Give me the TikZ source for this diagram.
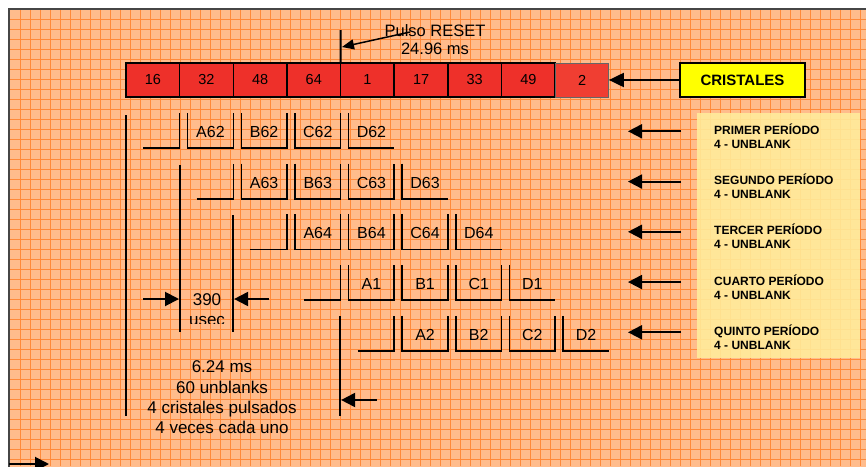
\documentclass[tikz,border=0pt]{standalone}
\usepackage{fontspec}
\setmainfont{Liberation Sans}
\usetikzlibrary{arrows.meta,positioning}

\definecolor{fondo}{RGB}{255,188,140}
\definecolor{rejilla}{RGB}{255,138,58}
\definecolor{rojo}{RGB}{238,48,42}
\definecolor{rojoclaro}{RGB}{240,62,50}
\definecolor{amarillo}{RGB}{255,255,0}
\definecolor{panel}{RGB}{255,236,155}
\definecolor{marco}{RGB}{70,70,70}

\begin{document}
\begin{tikzpicture}[x=1pt,y=-1pt,
    celda/.style={draw,line width=1.6pt,fill=rojo,outer sep=0pt,inner sep=0pt,
      minimum width=53.65pt,minimum height=34pt,font=\fontsize{14.5}{16}\selectfont},
    pulso/.style={line width=1.6pt},
    linea/.style={line width=2.2pt},
    flecha/.style={line width=2pt,-{Triangle[length=14pt,width=14pt]}},
    texto/.style={inner sep=0pt,font=\fontsize{16.5}{20}\selectfont},
    periodo/.style={inner sep=0pt,anchor=base west,font=\bfseries\fontsize{12}{14}\selectfont}]
\useasboundingbox (0,0) rectangle (866,466);
\clip (0,0) rectangle (866,466);
\fill[fondo] (9,9) rectangle (880,480);
\foreach \gx in {20,30,...,860}
  \draw[rejilla,line width=0.6pt] (\gx,10) -- (\gx,466);
\foreach \gy in {19,29,...,459}
  \draw[rejilla,line width=0.6pt] (10,\gy) -- (866,\gy);
\draw[marco,line width=2pt] (9,470) -- (9,9) -- (870,9);

\node[fill=panel,fill opacity=0.88,anchor=north west,minimum width=163pt,minimum height=245pt] (panel) at (697,113) {};

\node[celda,anchor=north west] (c16) at (126,63) {16};
\foreach \n/\p in {32/16,48/32,64/48,1/64,17/1,33/17,49/33}
  \node[celda,right=0pt of c\p] (c\n) {\n};
\node[celda,right=0pt of c49,fill=rojoclaro,draw=black!60,line width=0.8pt] (c2) {2};

\node[draw,line width=1.6pt,fill=amarillo,minimum width=125pt,minimum height=34pt,inner sep=0pt,
  font=\bfseries\fontsize{15}{18}\selectfont] (cristales) at (742.5,80) {CRISTALES};
\draw[flecha,-{Triangle[length=15pt,width=14pt]}] (cristales) -- (c2);

\coordinate (reset) at (340.6,30);
\draw[linea] (reset) -- (c1.north west);
\node[texto] (pulsoreset) at (435,30.7) {Pulso RESET};
\node[texto] (tiempo) at (435,49) {24.96 ms};
\coordinate (colareset) at (410,32);
\coordinate (puntareset) at (342,47);
\draw[line width=1.5pt,-{Triangle[length=12pt,width=10pt]}] (colareset) -- (puntareset);

\foreach \n [count=\r from 0] in {62,63,64,1,2} {
  \pgfmathsetmacro\ya{113+50.7*\r}
  \pgfmathsetmacro\yb{\ya+35}
  \pgfmathsetmacro\xa{126+53.65*\r}
  \draw[pulso] (\xa+17,\yb) -- (\xa+53.65,\yb) -- (\xa+53.65,\ya);
  \foreach \l [count=\k] in {A,B,C,D} {
    \pgfmathsetmacro\xl{\xa+53.65*\k+8}
    \pgfmathsetmacro\xr{\xa+53.65*(\k+1)}
    \ifnum\k<4
      \draw[pulso] (\xl,\ya) -- (\xl,\yb) -- (\xr,\yb) -- (\xr,\ya);
    \else
      \draw[pulso] (\xl,\ya) -- (\xl,\yb) -- (\xr,\yb);
    \fi
    \node[texto,font=\fontsize{16}{18}\selectfont] (\l\n) at ({(\xl+\xr)/2},\ya+19) {\l\n};
  }
}

\draw[linea] (126,115) -- (126,416);
\draw[linea] (180,165) -- (180,332);
\draw[linea] (233,215) -- (233,332);
\draw[linea] (340,316) -- (340,416);

\node[texto,font=\fontsize{17}{20}\selectfont] (t390) at (207,300) {390};
\begin{scope}
  \clip (150,280) rectangle (262,323);
  \node[texto,font=\fontsize{17}{20}\selectfont] (usec) at (207,321.5) {usec};
\end{scope}
\coordinate (izq) at (143,299);
\coordinate (izqpunta) at (179,299);
\coordinate (der) at (269,299);
\coordinate (derpunta) at (234.1,299);
\draw[flecha] (izq) -- (izqpunta);
\draw[flecha] (der) -- (derpunta);

\node[texto,font=\fontsize{17}{20.3}\selectfont,align=center] (resumen) at (222,397.5)
  {6.24 ms\\60 unblanks\\4 cristales pulsados\\4 veces cada uno};

\coordinate (cola5) at (377,400);
\coordinate (punta5) at (341.1,400);
\draw[flecha] (cola5) -- (punta5);

\coordinate (colabajo) at (9,464);
\coordinate (puntabajo) at (49,464);
\draw[flecha] (colabajo) -- (puntabajo);

\foreach \nm [count=\i from 0] in {PRIMER,SEGUNDO,TERCER,CUARTO,QUINTO} {
  \pgfmathsetmacro\yp{134.3+50.25*\i}
  \node[periodo] (p\i) at (714,\yp) {\nm{} PERÍODO};
  \node[periodo] (u\i) at (714,\yp+14) {4 - UNBLANK};
  \coordinate (cola\i) at (681,\yp-3);
  \coordinate (punta\i) at (628,\yp-3);
  \draw[flecha] (cola\i) -- (punta\i);
}
\end{tikzpicture}
\end{document}
